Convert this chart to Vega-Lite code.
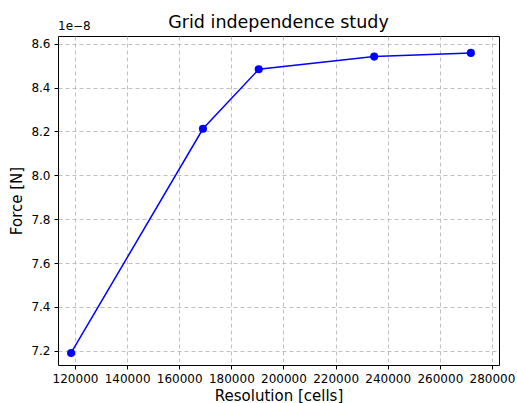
{
  "$schema": "https://vega.github.io/schema/vega-lite/v6.json",
  "width": 441,
  "height": 329,
  "autosize": "none",
  "padding": {"left": 58, "top": 36, "right": 18, "bottom": 38},
  "background": "white",
  "title": {"text": "Grid independence study", "fontSize": 17.5, "font": "DejaVu Sans", "fontWeight": "normal", "color": "#000000", "anchor": "middle", "offset": -11},
  "config": {
    "view": {"stroke": "#000000", "strokeWidth": 1},
    "axis": {
      "labelFont": "DejaVu Sans", "labelFontSize": 12, "labelColor": "#000000",
      "titleFont": "DejaVu Sans", "titleFontSize": 15, "titleFontWeight": "normal", "titleColor": "#000000",
      "gridColor": "#b0b0b0", "gridDash": [4, 3], "gridWidth": 0.8,
      "tickColor": "#000000", "tickSize": 4, "domain": false
    }
  },
  "data": {"values": [
    {"cells": 118500, "force": 7.19e-8},
    {"cells": 169100, "force": 8.212e-8},
    {"cells": 190500, "force": 8.483e-8},
    {"cells": 234800, "force": 8.541e-8},
    {"cells": 271900, "force": 8.558e-8}
  ]},
  "layer": [
    {
      "mark": {"type": "line", "color": "#0000ff", "strokeWidth": 1.5},
      "encoding": {
        "x": {"field": "cells", "type": "quantitative", "scale": {"domain": [113480, 282690], "nice": false, "zero": false},
              "axis": {"title": "Resolution [cells]", "values": [120000, 140000, 160000, 180000, 200000, 220000, 240000, 260000, 280000], "format": "d", "labelPadding": 4, "titlePadding": 4}},
        "y": {"field": "force", "type": "quantitative", "scale": {"domain": [7.135e-8, 8.635e-8], "nice": false, "zero": false},
              "axis": {"title": "Force [N]", "values": [7.2e-8, 7.4e-8, 7.6e-8, 7.8e-8, 8.0e-8, 8.2e-8, 8.4e-8, 8.6e-8], "labelExpr": "format(datum.value*1e8, '.1f')", "labelPadding": 4, "titlePadding": 6}}
      }
    },
    {
      "mark": {"type": "point", "filled": true, "color": "#0000ff", "opacity": 1, "size": 65},
      "encoding": {
        "x": {"field": "cells", "type": "quantitative"},
        "y": {"field": "force", "type": "quantitative"}
      }
    },
    {
      "data": {"values": [{"cells": 113480, "force": 8.635e-8, "label": "1e−8"}]},
      "mark": {"type": "text", "align": "left", "baseline": "bottom", "dy": -3, "font": "DejaVu Sans", "fontSize": 12, "color": "#000000"},
      "encoding": {
        "x": {"field": "cells", "type": "quantitative"},
        "y": {"field": "force", "type": "quantitative"},
        "text": {"field": "label"}
      }
    }
  ]
}
